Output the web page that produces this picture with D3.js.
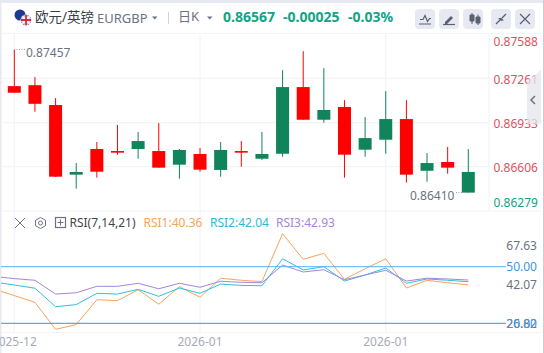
<!DOCTYPE html>
<html><head><meta charset="utf-8">
<script src="https://cdn.jsdelivr.net/npm/d3@7/dist/d3.min.js"></script>
<style>html,body{margin:0;padding:0;background:#fff;overflow:hidden}svg{display:block}text{font-family:"Noto Sans","Noto Sans CJK SC",sans-serif}</style>
</head><body><svg id="c" width="544" height="353"></svg>
<script>
// candles: [open, high, low, close]; red = up, green = down
const opens  = [.87154,.87072,.86532,.86567,.86569,.86710,.86796,.86599,.86730,.86584,.86730,.86710,.86700,.87196,.86954,.87026,.86695,.86818,.86959,.86547,.86633,.86599,.86567];
const highs  = [.87475,.87270,.87114,.86633,.86789,.86915,.86863,.86929,.86737,.86744,.86789,.86796,.86863,.87321,.87462,.87336,.87099,.86974,.87166,.87099,.86707,.86752,.86737];
const lows   = [.87154,.87013,.86532,.86443,.86525,.86695,.86665,.86599,.86517,.86569,.86532,.86606,.86656,.86680,.86954,.86932,.86525,.86680,.86702,.86488,.86495,.86554,.86414];
const closes = [.87203,.87210,.87063,.86547,.86737,.86722,.86737,.86722,.86621,.86700,.86582,.86722,.86665,.86702,.87196,.86954,.87048,.86732,.86806,.86959,.86576,.86641,.86414];
const priceTicks = [.87261,.86933,.86606];
const axisPriceLabels = ["0.87588","0.87261","0.86933","0.86606","0.86279"];
const axisPriceValues = [.87588,.87261,.86933,.86606,.86279];
// RSI series; first entry belongs to the candle just left of the view
const rsi1 = [38.2,34.7,31.1,16.8,19.3,32.5,32.0,37.8,30.1,39.4,33.8,43.9,42.8,42.1,67.5,53.9,57.1,43.3,48.9,54.2,38.7,42.8,41.5,40.36];
const rsi2 = [41.9,40.3,38.6,28.8,29.9,35.9,35.5,38.0,34.3,38.7,35.9,40.8,40.1,39.9,54.2,48.3,50.0,42.4,45.6,49.3,41.2,43.5,42.8,42.04];
const rsi3 = [44.8,43.7,42.8,35.5,36.2,39.6,39.6,41.2,38.3,41.2,39.1,42.3,41.7,41.5,50.9,47.2,48.4,43.1,45.6,48.1,42.4,43.9,43.5,42.93];
const rsiLevels = [50,20];
const rsiLabels = ["67.63","42.07"];
const rsiLabelNudge = [12.3,3.4];
const dateLabels = [["2025-12",0],["2026-01",9],["2026-01",18]];

const svg = d3.select("#c");
const W=544,H=353,plotR=489,GREEN="#10845a",RED="#ff0000",GRID="#f3f4f8",AX="#6b7280";
const x = d3.scaleLinear().domain([0,22]).range([14.3,468.3]);
const y = d3.scaleLinear().domain([.86606,.87261]).range([166.7,78.3]);
const ry = d3.scaleLinear().domain([20,50]).range([323.3,266.7]);

// chrome
svg.append("rect").attr("width",W).attr("height",H).attr("fill","#fff");
svg.append("rect").attr("width",W).attr("height",3).attr("fill","#e6e9f1");
svg.append("rect").attr("width",1.5).attr("height",H).attr("fill","#e6e9f1");
svg.append("rect").attr("x",W-1).attr("width",1).attr("height",H).attr("fill","#c9cdd6");

// grid
const g = svg.append("g").attr("stroke",GRID).attr("stroke-width",1.2);
priceTicks.forEach(p=>g.append("line").attr("x1",1).attr("x2",plotR).attr("y1",y(p)).attr("y2",y(p)));
[0,9,18].forEach(i=>{g.append("line").attr("x1",x(i)).attr("x2",x(i)).attr("y1",33).attr("y2",332);});
[33.5,211,332.5].forEach(v=>g.append("line").attr("x1",1).attr("x2",W-3).attr("y1",v).attr("y2",v));
g.append("line").attr("x1",plotR).attr("x2",plotR).attr("y1",33).attr("y2",211);

// candles
const idx = d3.range(opens.length);
const col = i=>closes[i]>=opens[i]?RED:GREEN;
svg.append("g").selectAll("line").data(idx).join("line")
 .attr("x1",x).attr("x2",x).attr("y1",i=>y(highs[i])).attr("y2",i=>y(lows[i]))
 .attr("stroke",col).attr("stroke-width",1);
svg.append("g").selectAll("rect").data(idx).join("rect")
 .attr("x",i=>x(i)-6.5).attr("width",13)
 .attr("y",i=>y(Math.max(opens[i],closes[i])))
 .attr("height",i=>Math.max(1,Math.abs(y(opens[i])-y(closes[i]))))
 .attr("fill",col);

// high/low annotations
svg.append("text").attr("x",26).attr("y",57).attr("font-size",12).attr("fill",AX).text("0.87457");
svg.append("path").attr("d",`M16.5,49.5H26`).attr("stroke","#9aa0ab").attr("stroke-dasharray","1 1.5").attr("fill","none");
svg.append("text").attr("x",410).attr("y",199.5).attr("font-size",12).attr("fill",AX).text("0.86410");
svg.append("path").attr("d",`M456,192.5H467`).attr("stroke","#9aa0ab").attr("stroke-dasharray","1 1.5").attr("fill","none");

// price axis
axisPriceLabels.forEach((t,i)=>{
  const py = Math.max(41.5,Math.min(202.7,y(axisPriceValues[i])+1.2));
  svg.append("text").attr("x",493.5).attr("y",py+4.3).attr("font-size",12)
   .attr("fill",i==4?"#10a37f":"#e2505f").text(t);
});

// RSI
const line = d3.line().x((d,i)=>x(i-1)).y(d=>ry(d));
svg.append("clipPath").attr("id","cp").append("rect").attr("x",1).attr("y",212).attr("width",plotR+20).attr("height",120);
const lg = svg.append("g").attr("clip-path","url(#cp)").attr("fill","none").attr("stroke-width",1);
[[rsi1,"#f6a45c"],[rsi2,"#30c0dc"],[rsi3,"#a585e0"]].forEach(([s,c])=>lg.append("path").attr("d",line(s)).attr("stroke",c));
rsiLevels.forEach(v=>{
  svg.append("line").attr("x1",1).attr("x2",506).attr("y1",ry(v)).attr("y2",ry(v)).attr("stroke",v==50?"#5aaef0":"#3f8fe0").attr("stroke-width",1);
});
rsiLabels.forEach((t,i)=>svg.append("text").attr("x",537).attr("text-anchor","end").attr("y",ry(+t)+rsiLabelNudge[i]+4.3).attr("font-size",12).attr("fill",AX).text(t));
svg.append("text").attr("x",537).attr("text-anchor","end").attr("y",ry(20)+4.5).attr("font-size",12).attr("fill",AX).text("26.82");
rsiLevels.forEach(v=>svg.append("text").attr("x",537).attr("text-anchor","end").attr("y",ry(v)+4.5).attr("font-size",12).attr("fill","#3a96ea").text(v.toFixed(2)));

// dates
dateLabels.forEach(([t,i])=>svg.append("text").attr("x",x(i)).attr("y",345.5).attr("text-anchor","middle").attr("font-size",12).attr("fill","#a7abb8").text(t));

// header
const txt=(s,xx,yy,fs,c,w)=>svg.append("text").attr("x",xx).attr("y",yy).attr("font-size",fs).attr("fill",c).attr("font-weight",w||400).text(s);
svg.append("circle").attr("cx",20).attr("cy",15).attr("r",5.5).attr("fill","#1d3a94");
svg.append("circle").attr("cx",26).attr("cy",20).attr("r",5.5).attr("fill","#fff");
const uk=svg.append("g");
uk.append("clipPath").attr("id","uk").append("circle").attr("cx",26).attr("cy",20).attr("r",5.2);
const ug=uk.append("g").attr("clip-path","url(#uk)");
ug.append("rect").attr("x",20).attr("y",14).attr("width",12).attr("height",12).attr("fill","#27408f");
ug.append("path").attr("d","M20,14L32,26M32,14L20,26").attr("stroke","#fff").attr("stroke-width",2);
ug.append("path").attr("d","M26,14V26M20,20H32").attr("stroke","#fff").attr("stroke-width",3.4);
ug.append("path").attr("d","M26,14V26M20,20H32").attr("stroke","#d8283c").attr("stroke-width",1.8);
txt("欧元/英镑",35,22,13.5,"#3b3f4a");
txt("EURGBP",97,23,13,"#6b7280");
svg.append("path").attr("d","M152,16.5h5.5l-2.75,3z").attr("fill","#6b7280");
svg.append("line").attr("x1",168.5).attr("x2",168.5).attr("y1",12).attr("y2",24).attr("stroke","#cfd3db");
txt("日K",178,21,13,"#6b7280");
svg.append("path").attr("d","M207,16.5h5.5l-2.75,3z").attr("fill","#6b7280");
const UPG="#10a585";
txt("0.86567",223,21.5,14,UPG,700);
txt("-0.00025",283,21.5,14,UPG,700);
txt("-0.03%",348,21.5,14,UPG,700);

// toolbar
[415,439,463,491,515].forEach(bx=>svg.append("rect").attr("x",bx).attr("y",9).attr("width",20).attr("height",20).attr("rx",4).attr("fill","#e6e9f1"));
const ic="#5b6070";
svg.append("path").attr("d","M420,19.5h3l2,-4l2.5,6l2,-3h1.5M419,24h12").attr("fill","none").attr("stroke",ic).attr("stroke-width",1.2);
svg.append("path").attr("d","M445,22l6,-6l2,2l-6,6h-2z").attr("fill",ic);
svg.append("path").attr("d","M443,24.5h12").attr("stroke",ic).attr("stroke-width",1.2);
svg.append("path").attr("d","M470,15h4v6h-4zM476,17h4v6h-4zM472,13v11M478,14.500v10.500").attr("fill",ic).attr("stroke",ic);
svg.append("path").attr("d","M496,24l4,-4M500,20v-0M506,14l-4,4").attr("stroke",ic).attr("stroke-width",1.3).attr("fill","none");
svg.append("path").attr("d","M498,18h3.500v3.500zM504,20.500h-3v-3z").attr("fill",ic);
svg.append("path").attr("d","M520,14l10,10M530,14l-10,10").attr("stroke",ic).attr("stroke-width",1.2);

// side tab
svg.append("path").attr("d","M527,81L541,70V124H527Z").attr("fill","#e4e5ea").attr("fill-opacity",0.75);
svg.append("path").attr("d","M535,96l-4,4l4,4").attr("fill","none").attr("stroke","#6b7280").attr("stroke-width",1.5);

// RSI header
svg.append("path").attr("d","M15,218l10,10M25,218l-10,10").attr("stroke","#6b7280").attr("stroke-width",1);
svg.append("path").attr("d","M40.500,217.500l5,2.800v5.400l-5,2.800l-5,-2.800v-5.400z").attr("fill","none").attr("stroke","#6b7280");
svg.append("circle").attr("cx",40.5).attr("cy",223).attr("r",2).attr("fill","none").attr("stroke","#6b7280");
svg.append("rect").attr("x",55.5).attr("y",217.5).attr("width",10).attr("height",10).attr("fill","none").attr("stroke","#6b7280").attr("stroke-width",1.2);
svg.append("path").attr("d","M57.500,222.500h6M60.500,219.500v6").attr("stroke","#6b7280");
txt("RSI(7,14,21)",69.5,227,12,"#3f4450");
txt("RSI1:40.36",143.5,227,12,"#f6a45c");
txt("RSI2:42.04",210,227,12,"#30b8d8");
txt("RSI3:42.93",276,227,12,"#a585e0");
</script></body></html>
